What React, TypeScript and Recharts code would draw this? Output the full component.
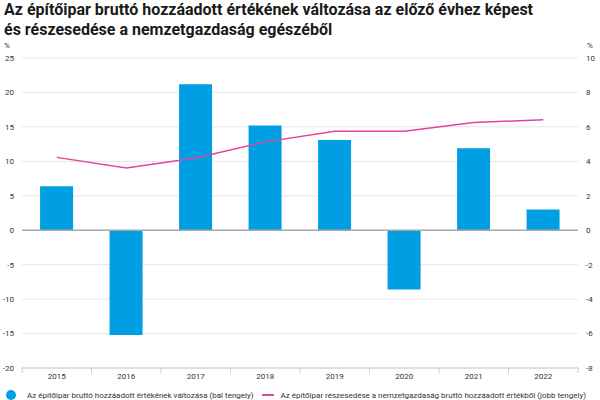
import React from 'react';
import {
  ComposedChart,
  Bar,
  Line,
  XAxis,
  YAxis,
  CartesianGrid,
  ReferenceLine,
} from 'recharts';

const years = ['2015', '2016', '2017', '2018', '2019', '2020', '2021', '2022'];
const valueChange = [6.4, -15.2, 21.2, 15.2, 13.1, -8.6, 11.9, 3.0];
const shareOfEconomy = [4.23, 3.62, 4.2, 5.13, 5.74, 5.74, 6.26, 6.41];
const leftTicks = [-20, -15, -10, -5, 0, 5, 10, 15, 20, 25];
const rightTicks = [-8, -6, -4, -2, 0, 2, 4, 6, 8, 10];

const barName = 'Az építőipar bruttó hozzáadott értékének változása (bal tengely)';
const lineName = 'Az építőipar részesedése a nemzetgazdaság bruttó hozzáadott értékből (jobb tengely)';

const data = years.map((y, i) => ({
  year: y,
  change: valueChange[i],
  share: shareOfEconomy[i],
}));

const BLUE = '#009FE3';
const PINK = '#E2449C';
const FONT = 'Roboto, "Noto Sans", sans-serif';

// year label plus the small tick marks that sit between the categories
function YearTick(props: any) {
  const { x, y, payload, index, visibleTicksCount, width } = props;
  const half = width && visibleTicksCount ? width / visibleTicksCount / 2 : 34.75;
  return (
    <g>
      <line x1={x - half} x2={x - half} y1={y} y2={y + 5} stroke="#ccc" />
      {index === visibleTicksCount - 1 && (
        <line x1={x + half} x2={x + half} y1={y} y2={y + 5} stroke="#ccc" />
      )}
      <text x={x} y={y + 11} textAnchor="middle" fontSize={8} fill="#333" fontFamily={FONT}>
        {payload.value}
      </text>
    </g>
  );
}

export default function App() {
  return (
    <div style={{ position: 'absolute', left: 0, top: 0, width: 600, height: 400, background: '#fff', fontFamily: FONT }}>
      <div style={{ position: 'absolute', left: 4, top: 0, fontSize: 16, fontWeight: 700, lineHeight: '20px', color: '#1a1a1a' }}>
        Az építőipar bruttó hozzáadott értékének változása az előző évhez képest
        <br />
        és részesedése a nemzetgazdaság egészéből
      </div>
      <div style={{ position: 'absolute', left: 4, top: 41, fontSize: 8, color: '#333' }}>%</div>
      <div style={{ position: 'absolute', left: 587, top: 41, fontSize: 8, color: '#333' }}>%</div>

      <div style={{ position: 'absolute', left: 0, top: 0 }}>
        <ComposedChart width={600} height={385} data={data} margin={{ top: 58, right: 0, bottom: 0, left: 0 }} barCategoryGap="26%">
          <CartesianGrid yAxisId="left" vertical={false} stroke="#e6e6e6" />
          <XAxis
            dataKey="year"
            height={17}
            axisLine={{ stroke: '#ccc' }}
            tickLine={false}
            tickSize={0}
            tickMargin={0}
            interval={0}
            tick={<YearTick />}
          />
          <YAxis
            yAxisId="left"
            orientation="left"
            width={22}
            domain={[-20, 25]}
            ticks={leftTicks}
            interval={0}
            axisLine={false}
            tickLine={false}
            tickSize={0}
            tickMargin={8}
            tick={{ fontSize: 8, fill: '#333', fontFamily: FONT }}
          />
          <YAxis
            yAxisId="right"
            orientation="right"
            width={22}
            domain={[-8, 10]}
            ticks={rightTicks}
            interval={0}
            axisLine={false}
            tickLine={false}
            tickSize={0}
            tickMargin={8}
            tick={{ fontSize: 8, fill: '#333', fontFamily: FONT, textAnchor: 'start' }}
          />
          <ReferenceLine yAxisId="left" y={0} stroke="#aaa" strokeWidth={1.5} />
          <Bar yAxisId="left" dataKey="change" name={barName} fill={BLUE} isAnimationActive={false} />
          <Line
            yAxisId="right"
            dataKey="share"
            name={lineName}
            type="linear"
            stroke={PINK}
            strokeWidth={1.5}
            dot={false}
            activeDot={false}
            isAnimationActive={false}
          />
        </ComposedChart>
      </div>

      <div style={{ position: 'absolute', left: 6, top: 390, display: 'flex', alignItems: 'center', fontSize: 8, color: '#333', whiteSpace: 'nowrap' }}>
        <span style={{ display: 'inline-block', width: 10, height: 10, borderRadius: 5, background: BLUE, marginRight: 11 }} />
        <span>{barName}</span>
        <span style={{ display: 'inline-block', width: 12, height: 2, background: PINK, marginLeft: 8, marginRight: 7 }} />
        <span>{lineName}</span>
      </div>
    </div>
  );
}
